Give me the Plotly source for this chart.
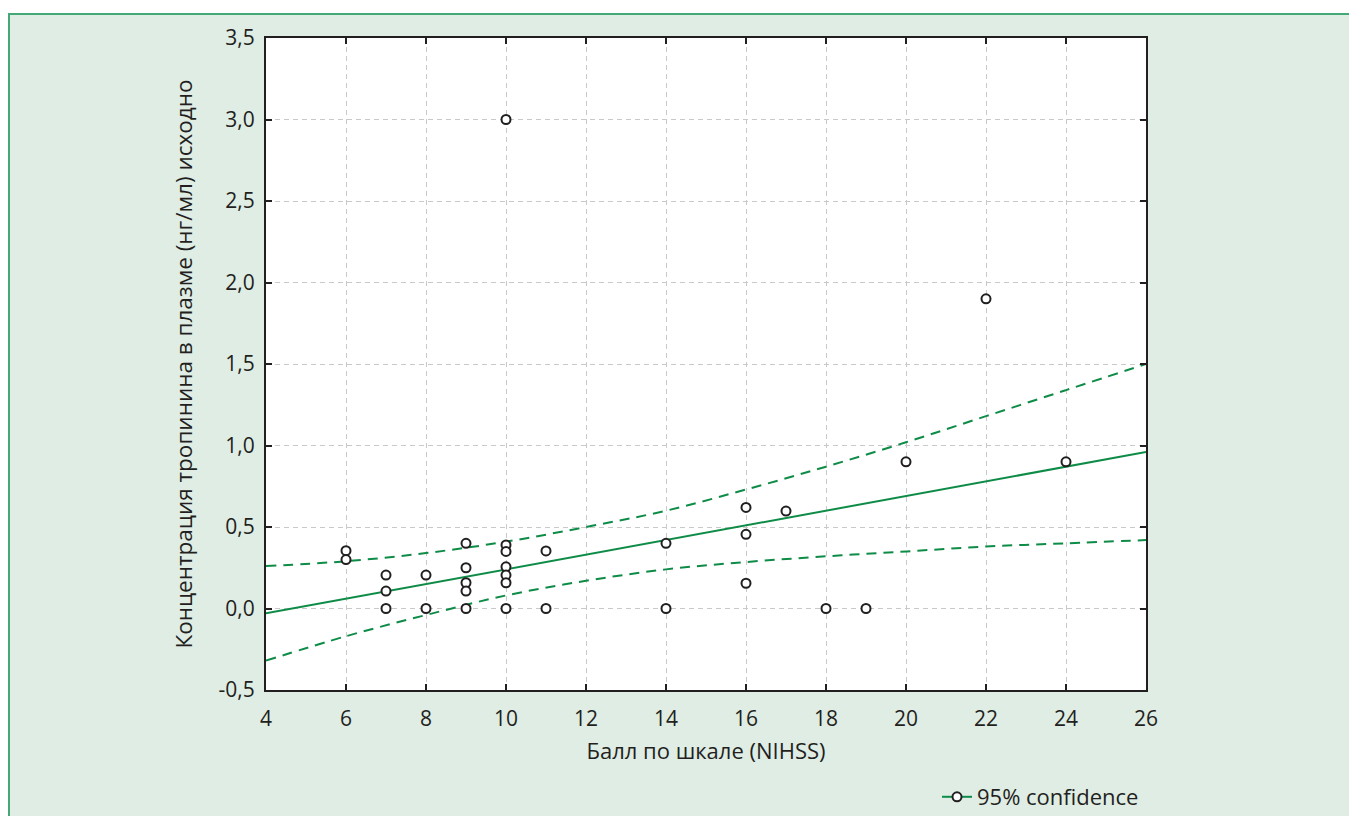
import plotly.graph_objects as go

# ---- data ----
nihss = [6, 6, 7, 7, 7, 8, 8, 9, 9, 9, 9, 9, 10, 10, 10, 10, 10, 10, 10,
         11, 11, 14, 14, 16, 16, 16, 17, 18, 19, 20, 22, 24]
troponin = [0.355, 0.30, 0.205, 0.107, 0.0, 0.205, 0.0, 0.40, 0.25, 0.158, 0.107, 0.0,
            3.0, 0.39, 0.35, 0.256, 0.205, 0.158, 0.0,
            0.353, 0.0, 0.40, 0.0, 0.62, 0.455, 0.155, 0.598, 0.0, 0.0, 0.90, 1.90, 0.90]

fit_x = [4, 26]
fit_y = [-0.03, 0.96]

band_x = [4, 6, 8, 10, 12, 14, 16, 18, 20, 22, 24, 26]
band_upper = [0.26, 0.29, 0.34, 0.41, 0.50, 0.60, 0.73, 0.87, 1.02, 1.18, 1.34, 1.50]
band_lower = [-0.32, -0.17, -0.04, 0.08, 0.17, 0.24, 0.285, 0.32, 0.35, 0.38, 0.40, 0.42]

x_ticks = [4, 6, 8, 10, 12, 14, 16, 18, 20, 22, 24, 26]
y_ticks = [-0.5, 0.0, 0.5, 1.0, 1.5, 2.0, 2.5, 3.0, 3.5]
y_ticklabels = ["-0,5", "0,0", "0,5", "1,0", "1,5", "2,0", "2,5", "3,0", "3,5"]

x_title = "Балл по шкале (NIHSS)"
y_title = "Концентрация тропинина в плазме (нг/мл) исходно"
legend_name = "95% confidence"

GREEN = "#0e8c47"
INK = "#231f20"
BG = "#dfede4"
BORDER = "#45a877"
FONT = "Open Sans"

fig = go.Figure()

fig.add_trace(go.Scatter(x=band_x, y=band_upper, mode="lines",
                         line=dict(color=GREEN, width=2, dash="10px,7px", shape="spline"),
                         showlegend=False, hoverinfo="skip"))
fig.add_trace(go.Scatter(x=band_x, y=band_lower, mode="lines",
                         line=dict(color=GREEN, width=2, dash="10px,7px", shape="spline"),
                         showlegend=False, hoverinfo="skip"))
fig.add_trace(go.Scatter(x=fit_x, y=fit_y, mode="lines",
                         line=dict(color=GREEN, width=2),
                         showlegend=False, hoverinfo="skip"))
fig.add_trace(go.Scatter(x=nihss, y=troponin, mode="markers",
                         marker=dict(symbol="circle", size=9, color="white",
                                     line=dict(color=INK, width=2)),
                         showlegend=False))
# legend entry
fig.add_trace(go.Scatter(x=[None], y=[None], mode="lines+markers", name=legend_name,
                         line=dict(color=GREEN, width=2),
                         marker=dict(symbol="circle", size=9, color="white",
                                     line=dict(color=INK, width=2))))

# the page body adds an 8px offset; figure pixel coords below are page coords - 8
OFF = 8
W, H = 1357 - OFF, 816 - OFF
L, R, T, B = 266 - OFF, 1357 - 1146, 38 - OFF, 816 - 690
pw = W - L - R
ph = H - T - B

def px2paper_x(px):
    return (px - OFF - L) / pw

def px2paper_y(py):
    return (H - B - (py - OFF)) / ph

# light green panel with green border
fig.add_shape(type="rect", xref="paper", yref="paper", layer="below",
              x0=px2paper_x(9), x1=px2paper_x(1420), y0=px2paper_y(880), y1=px2paper_y(14),
              fillcolor=BG, line=dict(color=BORDER, width=2))
# white plotting area on top of the panel
fig.add_shape(type="rect", xref="paper", yref="paper", layer="below",
              x0=0, x1=1, y0=0, y1=1, fillcolor="white", line=dict(width=0))

axis_common = dict(
    showline=True, linecolor=INK, linewidth=2, mirror="ticks",
    ticks="inside", ticklen=6, tickwidth=2, tickcolor=INK,
    showgrid=True, gridcolor="#c9c9c9", gridwidth=1, griddash="5px,4px",
    zeroline=False,
    tickfont=dict(family=FONT, size=21, color=INK),
)

fig.update_xaxes(range=[4, 26], tickvals=x_ticks, ticktext=[str(v) for v in x_ticks],
                 ticklabelstandoff=9,
                 title=dict(text=x_title, font=dict(family=FONT, size=22, color=INK), standoff=12),
                 **axis_common)
fig.update_yaxes(range=[-0.5, 3.5], tickvals=y_ticks, ticktext=y_ticklabels,
                 ticklabelstandoff=5,
                 title=dict(text=y_title, font=dict(family=FONT, size=22.5, color=INK), standoff=20),
                 **axis_common)

fig.update_layout(
    width=W, height=H,
    margin=dict(l=L, r=R, t=T, b=B, autoexpand=False),
    paper_bgcolor="rgba(0,0,0,0)",
    plot_bgcolor="white",
    font=dict(family=FONT, color=INK),
    legend=dict(x=px2paper_x(937), y=px2paper_y(797), xanchor="left", yanchor="middle",
                bgcolor="rgba(0,0,0,0)", font=dict(family=FONT, size=22, color=INK),
                itemwidth=30),
    showlegend=True,
)

fig.write_html("out.html")
